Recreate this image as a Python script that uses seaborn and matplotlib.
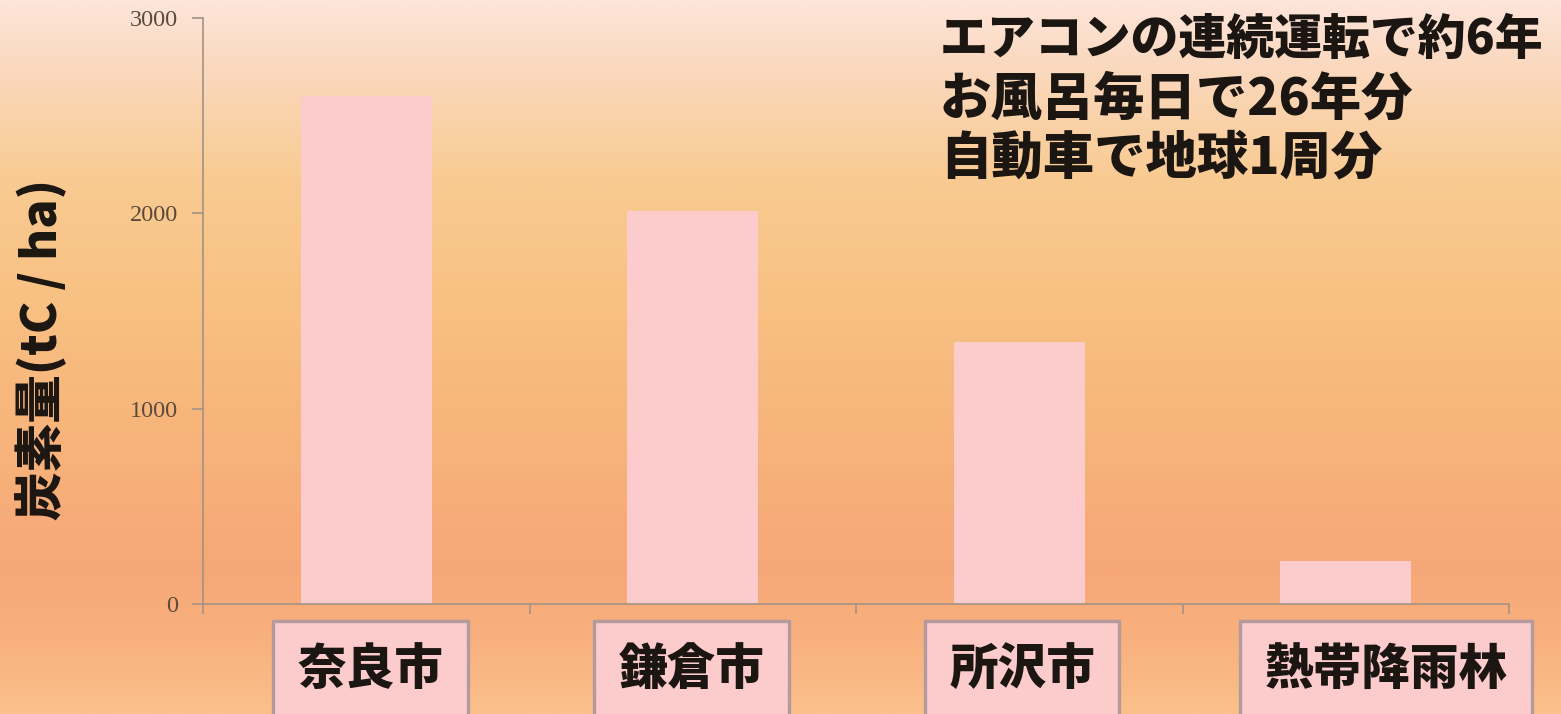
import numpy as np
import pandas as pd
import seaborn as sns
import matplotlib.pyplot as plt
from matplotlib.colors import LinearSegmentedColormap

# Carbon stock per hectare by location
categories = ['奈良市', '鎌倉市', '所沢市', '熱帯降雨林']
carbon = [2600, 2010, 1340, 220]
y_ticks = [0, 1000, 2000, 3000]
y_label = '炭素量(tC / ha)'
note_lines = ['エアコンの連続運転で約6年', 'お風呂毎日で26年分', '自動車で地球1周分']

BAR = '#fccbcb'
AXIS = '#a39285'
INK = '#1c1612'

sns.set_style('ticks')
plt.rcParams['font.family'] = ['Noto Sans CJK JP', 'DejaVu Sans']

W, H = 1561, 714
fig = plt.figure(figsize=(W / 100, H / 100), dpi=100)

# warm vertical gradient behind everything
bg = fig.add_axes([0, 0, 1, 1], zorder=-10)
stops = [(0.00, '#fde5da'), (0.08, '#fbdac2'), (0.25, '#f9cb92'),
         (0.45, '#f8bf81'), (0.65, '#f7b17a'), (0.80, '#f6a777'),
         (0.90, '#f8b17e'), (1.00, '#fbc08c')]
cmap = LinearSegmentedColormap.from_list('warm', stops)
grad = np.linspace(0, 1, 512).reshape(-1, 1)
bg.imshow(grad, aspect='auto', cmap=cmap, extent=[0, 1, 0, 1], origin='upper')
bg.set_axis_off()

ax = fig.add_axes([203 / W, 110 / H, 1306 / W, 586 / H])
ax.patch.set_alpha(0)

df = pd.DataFrame({'地点': categories, '炭素量': carbon})
sns.barplot(data=df, x='地点', y='炭素量', color=BAR, saturation=1,
            width=0.4, linewidth=0, edgecolor='none', ax=ax)

ax.set_xlim(-0.5, len(categories) - 0.5)
ax.set_ylim(0, 3000)
ax.set_xlabel('')

ax.set_yticks(y_ticks)
ax.set_yticklabels([str(t) for t in y_ticks], family='Liberation Serif',
                   fontsize=17.5, color='#5b4a3c')
ax.tick_params(axis='y', length=8, width=1.2, color=AXIS, pad=10)

ax.set_xticks(range(len(categories)))
ax.set_xticklabels([])
ax.tick_params(axis='x', which='major', length=0)
ax.set_xticks(np.arange(-0.5, len(categories), 1), minor=True)
ax.tick_params(axis='x', which='minor', length=7, width=1.2, color=AXIS,
               direction='out')

for side in ('top', 'right'):
    ax.spines[side].set_visible(False)
for side in ('left', 'bottom'):
    ax.spines[side].set_color(AXIS)
    ax.spines[side].set_linewidth(1.2)

ax.set_ylabel(y_label, fontsize=35, fontweight='heavy', color=INK)
ax.yaxis.set_label_coords(-0.104, 0.435)

# boxed category names below the axis
shifts = [3, -1, 2, 29]
for i, name in enumerate(categories):
    ax.annotate(name, xy=(i, 0), xycoords=('data', 'axes fraction'),
                xytext=(shifts[i], -47), textcoords='offset points',
                ha='center', va='center', fontsize=35, fontweight='heavy',
                color=INK, annotation_clip=False,
                bbox=dict(boxstyle='square,pad=0.5', fc=BAR, ec='#b39a9c',
                          lw=2.4))

# comparison notes in the upper right (first line sized to fit the width)
note_sizes = [34.5, 37, 37]
for k, line in enumerate(note_lines):
    fig.text(940 / W, 1 - (40 + 59 * k) / H, line, ha='left', va='center',
             fontsize=note_sizes[k], fontweight='heavy', color=INK)

fig.savefig('out.png', dpi=100)
